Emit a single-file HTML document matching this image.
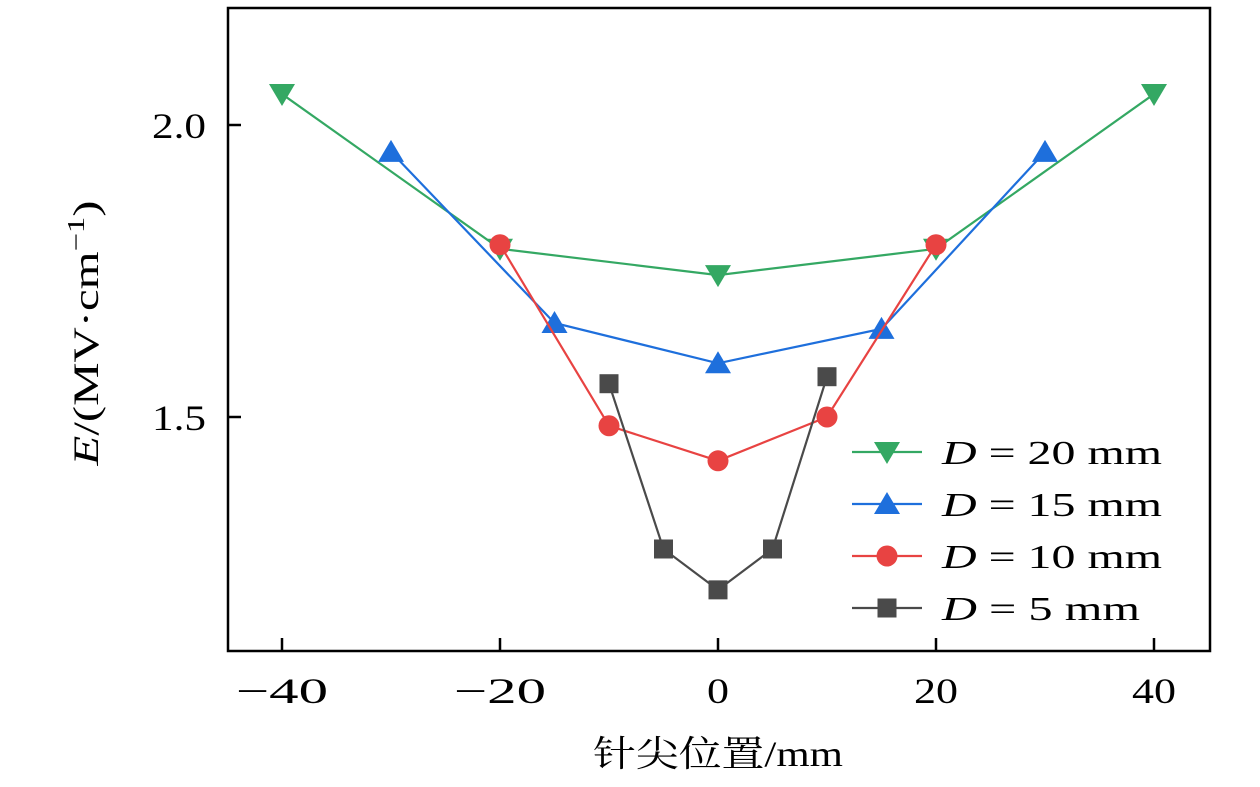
<!DOCTYPE html>
<html><head><meta charset="utf-8"><style>
body{margin:0;background:#fff;}
svg{display:block;font-family:"Liberation Serif","Noto Serif CJK SC",serif;}
</style></head><body>
<svg id="chart" width="1260" height="787" viewBox="0 0 1260 787">
<rect x="228" y="8" width="982" height="643" fill="none" stroke="#000" stroke-width="2.5"/>
<g id="ticks"></g><g id="series"></g><g id="legend"></g>
<text x="718" y="766" font-size="36" text-anchor="middle" textLength="250" lengthAdjust="spacingAndGlyphs">针尖位置/mm</text>
<text transform="translate(98,333) rotate(-90)" font-size="36" text-anchor="middle" textLength="265" lengthAdjust="spacingAndGlyphs"><tspan font-style="italic">E</tspan>/(MV·cm<tspan font-size="24" dy="-14">−1</tspan><tspan dy="14">)</tspan></text>
</svg>
<script>
const xTicks=[-40,-20,0,20,40];
const xTickLabels=["−40","−20","0","20","40"];
const yTicks=[1.5,2.0];
const yTickLabels=["1.5","2.0"];
const seriesNames=["D = 20 mm","D = 15 mm","D = 10 mm","D = 5 mm"];
const xs20=[-40,-20,0,20,40], ys20=[2.053,1.788,1.743,1.788,2.053];
const xs15=[-30,-15,0,15,30], ys15=[1.954,1.661,1.592,1.651,1.954];
const xs10=[-20,-10,0,10,20], ys10=[1.795,1.485,1.425,1.5,1.795];
const xs5=[-10,-5,0,5,10], ys5=[1.557,1.274,1.204,1.274,1.569];
const NS="http://www.w3.org/2000/svg";
function X(v){return 718+v*10.9;}
function Y(v){return 125-(v-2.0)*584;}
function mk(t,a,p){const e=document.createElementNS(NS,t);for(const k in a)e.setAttribute(k,a[k]);p.appendChild(e);return e;}
const tg=document.getElementById('ticks');
xTicks.forEach((v,i)=>{
 const l=mk('line',{x1:X(v),x2:X(v),y1:651,y2:638,stroke:'#000','stroke-width':2.5},tg);
 
 
 const s=xTickLabels[i];
 const w=(s.startsWith('−')?48:0)+ (s.replace('−','').length)*22;
 const t=mk('text',{x:X(v),y:703,'font-size':36,'text-anchor':'middle',textLength:w,lengthAdjust:'spacingAndGlyphs'},tg);t.textContent=s;
 
 
});
yTicks.forEach((v,i)=>{
 const l=mk('line',{x1:228,x2:241,y1:Y(v),y2:Y(v),stroke:'#000','stroke-width':2.5},tg);
 
 
 const t=mk('text',{x:206,y:Y(v)+13,'font-size':36,'text-anchor':'end',textLength:54,lengthAdjust:'spacingAndGlyphs'},tg);t.textContent=yTickLabels[i];
 
 
});
const colors=["#34a863","#1e6fdc","#e84342","#4a4a4a"];
const markers=["down","up","circle","square"];
const data=[[xs20,ys20],[xs15,ys15],[xs10,ys10],[xs5,ys5]];
function marker(kind,x,y,c,p){
 if(kind==='down')return mk('polygon',{points:`${x-13},${y-10} ${x+13},${y-10} ${x},${y+12}`,fill:c},p);
 if(kind==='up')return mk('polygon',{points:`${x-13},${y+10} ${x+13},${y+10} ${x},${y-12}`,fill:c},p);
 if(kind==='circle')return mk('circle',{cx:x,cy:y,r:10.5,fill:c},p);
 return mk('rect',{x:x-9.5,y:y-9.5,width:19,height:19,fill:c},p);
}
const sg=document.getElementById('series');
data.forEach((d,i)=>{
 const g=mk('g',{},sg);
 
 
 const pl=mk('polyline',{points:d[0].map((x,j)=>X(x)+','+Y(d[1][j])).join(' '),fill:'none',stroke:colors[i],'stroke-width':2.2},g);
 
 
 d[0].forEach((x,j)=>{const m=marker(markers[i],X(x),Y(d[1][j]),colors[i],g);
  
  });
});
const lg=document.getElementById('legend');
seriesNames.forEach((n,i)=>{
 const y=452+i*52;
 const g=mk('g',{},lg);
 
 
 mk('line',{x1:852,x2:922,y1:y,y2:y,stroke:colors[i],'stroke-width':2.2},g);
 marker(markers[i],887,y,colors[i],g);
 const parts=n.split(' ');
 const w=parts[2].length===2?220:198;
 const t=mk('text',{x:942,y:y+12,'font-size':34,textLength:w,lengthAdjust:'spacingAndGlyphs'},g);
 t.innerHTML=`<tspan font-style="italic">D</tspan> = ${parts[2]} mm`;
});
</script>
</body></html>
